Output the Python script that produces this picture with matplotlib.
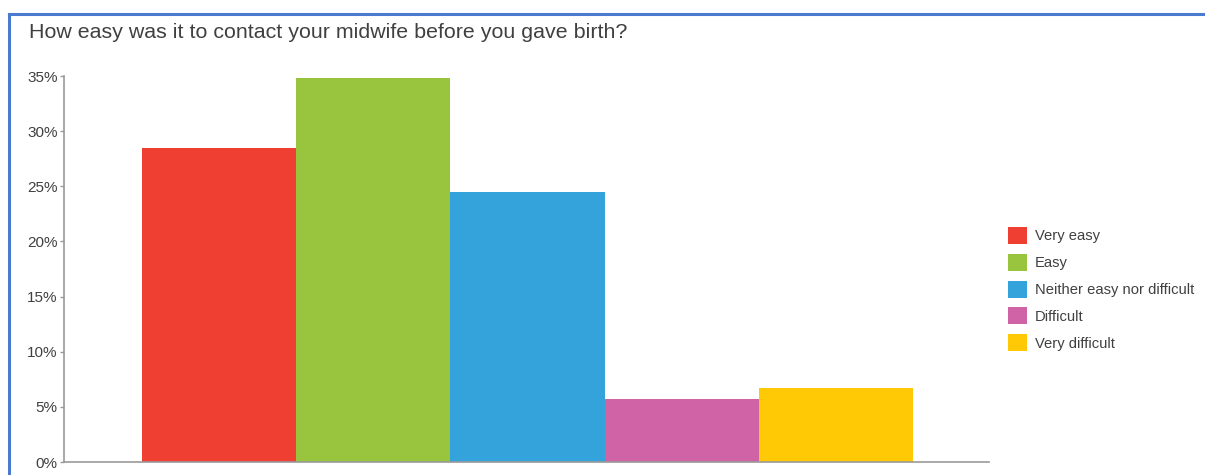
import matplotlib
matplotlib.use('Agg')
import matplotlib.pyplot as plt
from matplotlib.patches import Patch
from matplotlib.lines import Line2D

plt.rcParams['font.family'] = ['Liberation Sans', 'DejaVu Sans']

categories = ['Very easy', 'Easy', 'Neither easy nor difficult', 'Difficult', 'Very difficult']
values = [28.5, 34.8, 24.5, 5.7, 6.7]
colors = ['#ef3e32', '#98c53d', '#34a3dc', '#d063a6', '#ffca05']
yticks = [0, 5, 10, 15, 20, 25, 30, 35]

W, H = 1205, 475
fig = plt.figure(figsize=(W / 100, H / 100), dpi=100)

# blue frame (top and left edges visible)
frame = '#4a7bd0'
fig.add_artist(Line2D([9 / W, 1.0], [1 - 14 / H, 1 - 14 / H], color=frame, lw=2.2))
fig.add_artist(Line2D([9 / W, 9 / W], [0, 1 - 14 / H], color=frame, lw=2.2))

fig.text(29 / W, 1 - 32 / H, 'How easy was it to contact your midwife before you gave birth?',
         fontsize=15.4, color='#404040', va='center', ha='left')

ax = fig.add_axes([64 / W, 1 - 462 / H, (989 - 64) / W, (462 - 76) / H])
x = list(range(len(values)))
ax.bar(x, values, width=1.0, color=colors, edgecolor='none')
ax.set_xlim(-1.006, 4.993)
ax.set_ylim(0, 35)
ax.set_yticks(yticks)
ax.set_yticklabels([f'{t}%' for t in yticks])
ax.set_xticks([])
for s in ['top', 'right']:
    ax.spines[s].set_visible(False)
for s in ['left', 'bottom']:
    ax.spines[s].set_color('#999999')
    ax.spines[s].set_linewidth(1.2)
ax.tick_params(axis='y', colors='#999999', labelcolor='#404040', labelsize=11,
               length=3, width=1, pad=1.5)

handles = [Patch(facecolor=c, edgecolor='none') for c in colors]
fig.legend(handles, categories, loc='upper left', bbox_to_anchor=(1002 / W, 1 - 221 / H),
           frameon=False, fontsize=10.6, handlelength=1.3, handleheight=1.4,
           handletextpad=0.55, labelspacing=0.67, labelcolor='#404040', borderaxespad=0)

fig.savefig('out.png', dpi=100)
